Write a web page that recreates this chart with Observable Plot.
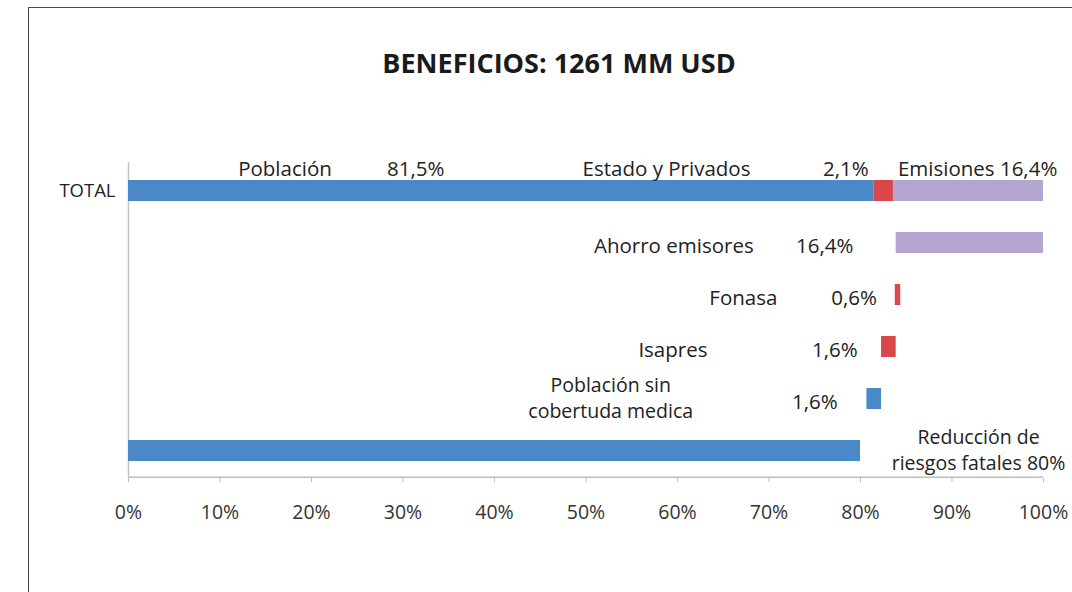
<!DOCTYPE html>
<html>
<head>
<meta charset="utf-8">
<script src="https://cdn.jsdelivr.net/npm/d3@7"></script>
<script src="https://cdn.jsdelivr.net/npm/@observablehq/plot@0.6"></script>
<style>
  body { margin: 0; background: #fff; }
  #wrap { position: relative; width: 1072px; height: 592px; overflow: hidden; }
  #border { position: absolute; left: 28px; top: 7px; width: 1200px; height: 700px;
            border-left: 1px solid #4a4a4a; border-top: 1px solid #4a4a4a; }
  #chart { position: absolute; left: 0; top: 0; }
</style>
</head>
<body>
<div id="wrap"><div id="border"></div><div id="chart"></div></div>
<script>
// Title
const title = "BENEFICIOS: 1261 MM USD";

// Rows (categories, top to bottom)
const rows = ["TOTAL", "Ahorro emisores", "Fonasa", "Isapres", "Población sin cobertura", "Reducción"];

// Bars (waterfall segments, in %)
const barRow   = ["TOTAL", "TOTAL", "TOTAL", "Ahorro emisores", "Fonasa", "Isapres", "Población sin cobertura", "Reducción"];
const barGroup = ["Población", "Estado y Privados", "Emisiones", "Emisiones", "Estado y Privados", "Estado y Privados", "Población", "Población"];
const barStart = [0,    81.5, 83.6, 83.9, 83.8, 82.3, 80.7, 0];
const barEnd   = [81.5, 83.6, 100,  100,  84.4, 83.9, 82.3, 80];

// Labels above the TOTAL bar
const headText = ["Población", "81,5%", "Estado y Privados", "2,1%", "Emisiones 16,4%"];
const headAt   = [17.1, 31.4, 58.8, 78.4, 92.8];

// Labels beside the other rows
const sideText = ["Ahorro emisores", "16,4%", "Fonasa", "0,6%", "Isapres", "1,6%",
                  "Población sin\ncobertuda medica", "1,6%", "Reducción de\nriesgos fatales 80%"];
const sideRow  = ["Ahorro emisores", "Ahorro emisores", "Fonasa", "Fonasa", "Isapres", "Isapres",
                  "Población sin cobertura", "Población sin cobertura", "Reducción"];
const sideAt   = [59.6, 76.1, 67.2, 79.3, 59.5, 77.2, 52.7, 75.0, 92.9];

// X ticks
const xTicks = [0, 10, 20, 30, 40, 50, 60, 70, 80, 90, 100];

const bars = barRow.map((r, i) => ({row: r, group: barGroup[i], x1: barStart[i], x2: barEnd[i]}));
const heads = headText.map((t, i) => ({text: t, row: "TOTAL", x: headAt[i]}));
const sides = sideText.map((t, i) => ({text: t, row: sideRow[i], x: sideAt[i]}));
const multi = d => d.text.includes("\n");

const font = "'Open Sans', Lato, sans-serif";
const H = 592, mTop = 162, mBottom = 114;
const halfStep = (H - mTop - mBottom) / rows.length / 2;

const chart = Plot.plot({
  width: 1072,
  height: H,
  marginLeft: 128,
  marginRight: 29,
  marginTop: mTop,
  marginBottom: mBottom,
  style: {fontFamily: font, fontSize: "19px", color: "#222", background: "transparent"},
  x: {domain: [0, 100], label: null},
  y: {domain: rows, paddingInner: 0.6, paddingOuter: 0.3, label: null},
  color: {domain: ["Población", "Estado y Privados", "Emisiones"], range: ["#4a88c8", "#d9474c", "#b4a6d0"]},
  marks: [
    Plot.ruleX([0], {stroke: "#c4c4c4", strokeWidth: 1.5}),
    Plot.barX(bars, {y: "row", x1: "x1", x2: "x2", fill: "group"}),
    Plot.ruleY([rows[rows.length - 1]], {dy: halfStep, stroke: "#bdbdbd", strokeWidth: 1.5}),
    Plot.axisX({ticks: xTicks, tickFormat: d => d + "%", tickSize: 4, tickPadding: 23, stroke: "#bdbdbd", fill: "#333", fontSize: 19.5}),
    Plot.axisY({tickSize: 0, tickPadding: 13, tickFormat: d => d === "TOTAL" ? d : "", fill: "#222", fontSize: 18.5}),
    Plot.text(heads, {x: "x", y: "row", text: "text", dy: -22, fill: "#222", fontSize: 20.5}),
    Plot.text(sides, {filter: d => !multi(d), x: "x", y: "row", text: "text", dy: 3, fill: "#222", fontSize: 20.5}),
    Plot.text(sides, {filter: multi, x: "x", y: "row", text: "text", dy: -2, lineHeight: 1.32, fill: "#222", fontSize: 19.5}),
    Plot.text([title], {frameAnchor: "top", lineAnchor: "middle", text: d => d, dy: -98, dx: -27, fontSize: 27, fontWeight: "bold", fill: "#1a1a1a"})
  ]
});
document.getElementById("chart").appendChild(chart);
</script>
</body>
</html>
